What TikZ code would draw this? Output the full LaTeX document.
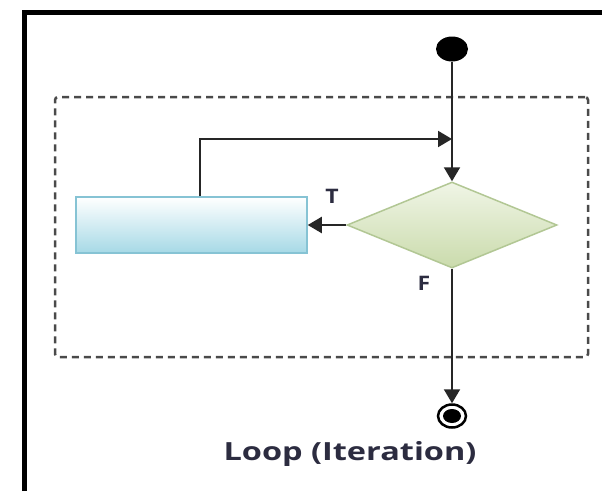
\documentclass[tikz,border=0pt]{standalone}
\usepackage{fontspec}
\setmainfont{Open Sans}
\usetikzlibrary{arrows.meta,shapes.geometric}

\definecolor{ink}{HTML}{262626}
\definecolor{labelink}{HTML}{2C2C40}
\definecolor{procfill}{HTML}{A6D9E6}
\definecolor{procedge}{HTML}{86C3D4}
\definecolor{decfilltop}{HTML}{F0F5E6}
\definecolor{decfillbot}{HTML}{CADBAC}
\definecolor{decedge}{HTML}{B2C794}
\definecolor{groupedge}{HTML}{4A4A4A}

\tikzset{
  flow/.style={draw=ink, line width=2pt, -{Triangle[length=14pt,width=16pt]}},
  startdot/.style={ellipse, fill=black, minimum width=32pt, minimum height=25pt, inner sep=0pt},
  enddot/.style={ellipse, draw=black, line width=2.5pt, fill=white, minimum width=28pt, minimum height=23pt, inner sep=0pt},
  procbox/.style={rectangle, draw=procedge, line width=1.5pt, top color=white, bottom color=procfill,
                  minimum width=231pt, minimum height=56pt, inner sep=0pt},
  decision/.style={diamond, draw=decedge, line width=1.5pt, top color=decfilltop, bottom color=decfillbot,
                   minimum width=210pt, minimum height=86pt, inner sep=0pt},
  groupbox/.style={rectangle, draw=groupedge, line width=2.5pt, dash pattern=on 7pt off 5pt,
                   rounded corners=3pt, minimum width=533pt, minimum height=260pt, inner sep=0pt},
  branchlabel/.style={text=labelink, font=\fontsize{20}{24}\selectfont\bfseries, xscale=1.15, inner sep=0pt},
  caption/.style={text=labelink, font=\fontsize{25}{30}\selectfont\bfseries, xscale=1.3, inner sep=0pt}
}

\begin{document}
\begin{tikzpicture}[x=1pt, y=-1pt]
  \useasboundingbox (0,0) rectangle (602,491);
  \fill[white] (0,0) rectangle (602,491);

  % outer frame (open to the right and bottom)
  \draw[line width=5pt, line cap=butt] (24,491) -- (24,12.5) -- (602,12.5);

  % dashed loop region
  \node[groupbox] (loopbox) at (321.5,227) {};

  % activity nodes
  \node[startdot] (start) at (452,49) {};
  \node[decision] (dec) at (452,225) {};
  \node[procbox] (proc) at (191.5,225) {};
  \node[enddot] (stop) at (452,416) {};
  \fill[black] (stop.center) ellipse [x radius=9pt, y radius=7pt];

  % connectors
  \draw[flow] (start) -- (dec.north);
  \draw[flow] (dec.west) -- (proc.east);
  \draw[flow] (dec.south) -- (stop.north);

  % back edge from the body to the loop entry
  \coordinate (backtop) at (200,139);
  \draw[flow] (backtop |- proc.north) -- (backtop) -- (backtop -| start);

  % branch labels
  \node[branchlabel] (tlabel) at (332,196) {T};
  \node[branchlabel] (flabel) at (424,283) {F};

  % caption
  \node[caption] (cap) at (350,454) {Loop (Iteration)};
\end{tikzpicture}
\end{document}
